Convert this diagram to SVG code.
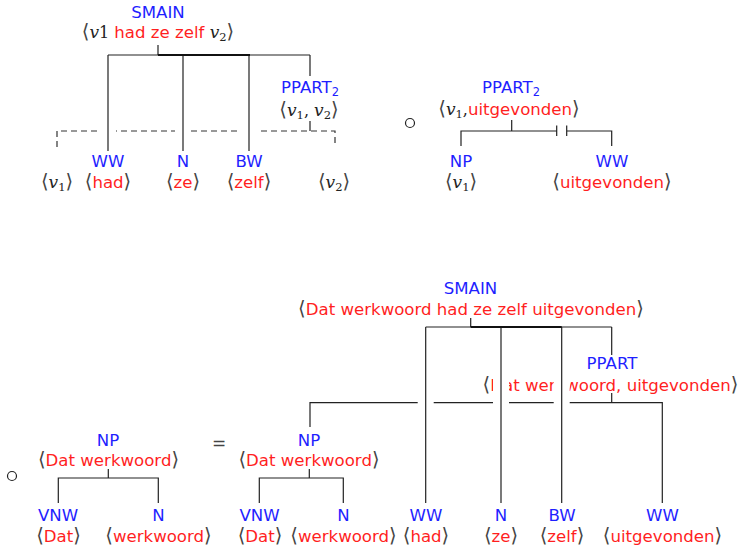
<svg xmlns="http://www.w3.org/2000/svg" width="739" height="550" viewBox="0 0 739 550">
<style>
text{font-family:"DejaVu Sans","Liberation Sans",sans-serif;font-size:16.6px;text-anchor:middle}
.b{fill:#1f1fff}
.r{fill:#ff1f1f}
.g{fill:#444;font-size:19.5px}
.eq{fill:#444;font-size:17px}
.m{font-family:"DejaVu Serif","Liberation Serif",serif;font-style:italic;font-size:17px;fill:#222}
.mr{font-family:"DejaVu Serif","Liberation Serif",serif;font-size:16px;fill:#222}
.ms{font-family:"DejaVu Serif","Liberation Serif",serif;font-size:11.5px;fill:#222}
.bs{font-size:11.5px;fill:#1f1fff}
.ln{fill:none;stroke:#222;stroke-width:1.2}
.th{fill:none;stroke:#111;stroke-width:2.2}
.da{fill:none;stroke:#333;stroke-width:1.2;stroke-dasharray:6 4}
.halo{fill:none;stroke:#fff;stroke-width:16}
.op{fill:none;stroke:#222;stroke-width:1.2}
</style>

<!-- top-left tree -->
<g id="smain1">
<text class="b" x="158" y="17.5">SMAIN</text>
<text x="158" y="38"><tspan class="g">⟨</tspan><tspan class="m">v</tspan><tspan class="mr">1 </tspan><tspan class="r">had ze zelf </tspan><tspan class="m">v</tspan><tspan class="ms" dy="3">2</tspan><tspan class="g" dy="-3">⟩</tspan></text>
</g>
<g id="ppart2a">
<text x="310" y="93"><tspan class="b">PPART</tspan><tspan class="bs" dy="3">2</tspan></text>
<text x="309" y="116"><tspan class="g">⟨</tspan><tspan class="m">v</tspan><tspan class="ms" dy="3">1</tspan><tspan class="mr" dy="-3">, </tspan><tspan class="m">v</tspan><tspan class="ms" dy="3">2</tspan><tspan class="g" dy="-3">⟩</tspan></text>
</g>
<g id="v1a">
<text x="57" y="188"><tspan class="g">⟨</tspan><tspan class="m">v</tspan><tspan class="ms" dy="3">1</tspan><tspan class="g" dy="-3">⟩</tspan></text>
</g>
<g id="ww1">
<text class="b" x="108" y="166.5">WW</text>
<text x="108" y="188"><tspan class="g">⟨</tspan><tspan class="r">had</tspan><tspan class="g">⟩</tspan></text>
</g>
<g id="n1">
<text class="b" x="183" y="166.5">N</text>
<text x="183" y="188"><tspan class="g">⟨</tspan><tspan class="r">ze</tspan><tspan class="g">⟩</tspan></text>
</g>
<g id="bw1">
<text class="b" x="249" y="166.5">BW</text>
<text x="249" y="188"><tspan class="g">⟨</tspan><tspan class="r">zelf</tspan><tspan class="g">⟩</tspan></text>
</g>
<g id="v2a">
<text x="334" y="188"><tspan class="g">⟨</tspan><tspan class="m">v</tspan><tspan class="ms" dy="3">2</tspan><tspan class="g" dy="-3">⟩</tspan></text>
</g>

<g id="op1"><circle class="op" cx="410" cy="123" r="4.5"/></g>

<!-- top-right tree -->
<g id="ppart2b">
<text x="511" y="93"><tspan class="b">PPART</tspan><tspan class="bs" dy="3">2</tspan></text>
<text x="509" y="115"><tspan class="g">⟨</tspan><tspan class="m">v</tspan><tspan class="ms" dy="3">1</tspan><tspan class="mr" dy="-3">,</tspan><tspan class="r">uitgevonden</tspan><tspan class="g">⟩</tspan></text>
</g>
<g id="np1">
<text class="b" x="461" y="167">NP</text>
<text x="461" y="188"><tspan class="g">⟨</tspan><tspan class="m">v</tspan><tspan class="ms" dy="3">1</tspan><tspan class="g" dy="-3">⟩</tspan></text>
</g>
<g id="ww2">
<text class="b" x="612" y="167">WW</text>
<text x="612" y="188"><tspan class="g">⟨</tspan><tspan class="r">uitgevonden</tspan><tspan class="g">⟩</tspan></text>
</g>

<!-- bottom -->
<g id="smain2">
<text class="b" x="470.5" y="294">SMAIN</text>
<text x="471" y="315"><tspan class="g">⟨</tspan><tspan class="r">Dat werkwoord had ze zelf uitgevonden</tspan><tspan class="g">⟩</tspan></text>
</g>
<g id="ppart3">
<text class="b" x="612" y="369">PPART</text>
<text x="610.5" y="390.5"><tspan class="g">⟨</tspan><tspan class="r">Dat werkwoord, uitgevonden</tspan><tspan class="g">⟩</tspan></text>
</g>
<g id="op2"><circle class="op" cx="12" cy="476" r="4.5"/></g>
<g id="np2">
<text class="b" x="108" y="446">NP</text>
<text x="108.5" y="465.5"><tspan class="g">⟨</tspan><tspan class="r">Dat werkwoord</tspan><tspan class="g">⟩</tspan></text>
</g>
<g id="vnw2">
<text class="b" x="58" y="520.5">VNW</text>
<text x="58.5" y="541.5"><tspan class="g">⟨</tspan><tspan class="r">Dat</tspan><tspan class="g">⟩</tspan></text>
</g>
<g id="n2">
<text class="b" x="158.5" y="520.5">N</text>
<text x="158.5" y="541.5"><tspan class="g">⟨</tspan><tspan class="r">werkwoord</tspan><tspan class="g">⟩</tspan></text>
</g>
<g id="eq"><text class="eq" x="219" y="449">=</text></g>
<g id="np3">
<text class="b" x="309" y="446">NP</text>
<text x="309" y="465.5"><tspan class="g">⟨</tspan><tspan class="r">Dat werkwoord</tspan><tspan class="g">⟩</tspan></text>
</g>
<g id="vnw3">
<text class="b" x="259.5" y="520.5">VNW</text>
<text x="260" y="541.5"><tspan class="g">⟨</tspan><tspan class="r">Dat</tspan><tspan class="g">⟩</tspan></text>
</g>
<g id="n3">
<text class="b" x="343.5" y="520.5">N</text>
<text x="343.5" y="541.5"><tspan class="g">⟨</tspan><tspan class="r">werkwoord</tspan><tspan class="g">⟩</tspan></text>
</g>
<g id="ww3">
<text class="b" x="426" y="520.5">WW</text>
<text x="426" y="541.5"><tspan class="g">⟨</tspan><tspan class="r">had</tspan><tspan class="g">⟩</tspan></text>
</g>
<g id="n4">
<text class="b" x="501" y="520.5">N</text>
<text x="501" y="541.5"><tspan class="g">⟨</tspan><tspan class="r">ze</tspan><tspan class="g">⟩</tspan></text>
</g>
<g id="bw4">
<text class="b" x="562" y="520.5">BW</text>
<text x="562" y="541.5"><tspan class="g">⟨</tspan><tspan class="r">zelf</tspan><tspan class="g">⟩</tspan></text>
</g>
<g id="ww4">
<text class="b" x="662.5" y="520.5">WW</text>
<text x="662.5" y="541.5"><tspan class="g">⟨</tspan><tspan class="r">uitgevonden</tspan><tspan class="g">⟩</tspan></text>
</g>

<g id="connectors">
<!-- top-left -->
<path class="da" d="M57 147V131H335V147"/>
<path class="halo" d="M108 125V137M183 125V137M249 125V137"/>
<path class="ln" d="M158 45V55M108 55H310M108 55V151M183 55V151M249 55V151M310 55V76M310 121V131"/>
<path class="th" d="M158 55H250"/>
<!-- top-right -->
<path class="ln" d="M511.7 120V131M461 146V131H556.7M556.7 125.5V136M566.7 125.5V136M566.7 131H611.7V146"/>
<!-- bottom -->
<path class="ln" d="M310 427V402.7H662.3V503M611.7 393V402.7"/>
<path class="halo" d="M425.7 372V410M501 372V410M561.7 372V410"/>
<path class="ln" d="M470.7 318V327M425.7 327H611.7M425.7 327V503M501 327V503M561.7 327V503M611.7 327V355"/>
<path class="th" d="M470.7 327H561.7"/>
<path class="ln" d="M108.3 469V478M58.3 503V478H158.3V503M309.3 469V478M259.3 503V478H343.3V503"/>
</g>
</svg>
